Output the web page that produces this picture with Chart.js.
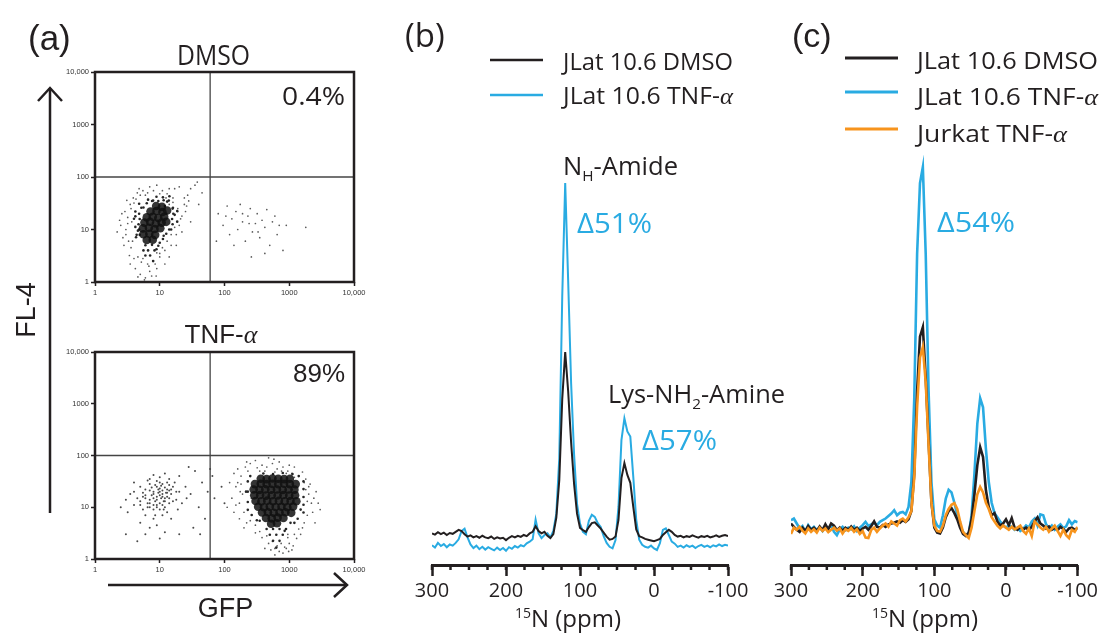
<!DOCTYPE html>
<html>
<head>
<meta charset="utf-8">
<script src="https://cdn.jsdelivr.net/npm/chart.js@4.4.1/dist/chart.umd.min.js"></script>
<style>
html, body { margin: 0; padding: 0; background: #fff; }
#fig { position: relative; width: 1101px; height: 635px; overflow: hidden; background: #fff; }
#fig canvas { position: absolute; }
</style>
</head>
<body>
<div id="fig">
  <canvas id="flowTop" width="375" height="635" style="left:0px;top:0px"></canvas>
  <canvas id="flowBottom" width="375" height="335" style="left:0px;top:300px"></canvas>
  <canvas id="nmrB" width="420" height="635" style="left:380px;top:0px"></canvas>
  <canvas id="nmrC" width="341" height="635" style="left:760px;top:0px"></canvas>
</div>
<script>
// ---------- data: flow cytometry (GFP vs FL-4) ----------
const flowTicks = [1, 10, 100, 1000, 10000];
const flowTickLabels = ['1', '10', '100', '1000', '10,000'];
const gateGFP = 60;     // vertical quadrant line
const gateFL4 = 100;    // horizontal quadrant line
const flowPercent = ['0.4%', '89%'];

// DMSO: dense core, its fringe, and scattered events
const dmsoCore = [
  [8.8,28],[10.8,27],
  [7.2,22],[8.9,22.5],[11,21.5],[13,23],
  [6.3,17],[7.8,17.5],[9.5,16.5],[11.7,17.5],
  [5.8,13.5],[7.1,14],[8.7,13],[10.7,13.5],[12.6,14],
  [5.5,10.5],[6.8,10.8],[8.3,10.2],[10.2,10.6],
  [5.6,8.1],[6.9,8.3],[8.5,7.9],
  [6.3,6.3],[7.8,6.4]
];
const dmsoEdge = [
  [7.9,35.5],[9.5,35],[11.5,36],[13.8,35.5],[8.9,42],[11.2,41],[14.1,43],
  [4.8,20],[4.9,15.8],[4.7,12.6],[4.8,10],[4.9,7.9],[4.2,17.8],[4.2,11.2],[4.3,7.1],[5.6,26.3],[6.3,31.6],
  [15.8,25],[16.2,20],[15.5,15.8],[15.8,12.6],[15,10],[18.6,22.4],[18.6,14.1],[12.6,8.3],[11.2,6.6],
  [6,5],[7.6,5.1],[9.5,4.9],[6.6,4],[8.3,4],[7.1,3.2],[6,3.2],[7.9,2.5],
  [4.2,22],[4.8,31],[6.6,37],[13,34],[16,26],[17,19],[14,10],[11.5,7.6],
  [10,5.6],[8.9,4.2],[5.6,4],[4.4,7.9],[4,16],[12.6,20],[12,28],[5.2,26],[4.6,9.5],[7.6,35]
];
const dmsoSparse = [
  [2.5,12],[3.0,8],[3.2,17],[2.8,5],[3.6,25],[3.4,3.2],[2.2,9],[3.9,40],[4.5,50],[5.5,55],
  [3.5,2.2],[4.2,1.8],[5.0,1.4],[6.0,1.2],[7.0,1.6],[6.5,2.2],[8.0,2.5],[9.0,1.8],[5.5,2.8],[4.6,3],
  [10,3],[12,4],[15,5],[18,8],[20,12],[22,18],[19,25],[24,30],[27,45],[30,60],
  [35,70],[16,40],[13,48],[11,55],[25,22],[30,14],[28,35],[14,30],[9,3.6],[7.5,1.3],
  [3.8,6],[2.6,20],[3.2,13],[4,32],[6,45],[40,30],[45,50],[38,80],[20,65],[17,60],
  [3,10],[3.3,6],[3.7,14],[2.9,22],[3.5,30],[4.3,38],[5,45],[6.5,50],[8,55],[10,48],
  [12.5,40],[16,33],[19,22],[21,16],[17,11],[15,8],[13,6],[11,4.5],[10,3.5],[8.5,2.2],
  [6.8,2],[5.2,2.4],[4,2.8],[3.6,4.5],[2.7,7],[2.4,15],[3.1,36],[4.8,60],[7,65],[9,70],
  [14,60],[24,40],[26,28],[22,9],[18,5],[14,3],[12,2.2],[5.8,1.1],[8.8,1.3],[4.6,1.25],
  [80,20],[95,12],[110,28],[120,8],[130,16],[150,22],[160,10],[175,30],[190,14],[210,6],
  [230,18],[250,25],[270,9],[300,13],[320,20],[350,7],[380,15],[420,11],[450,24],[500,5],
  [550,14],[600,18],[650,8],[700,12],[800,4],[900,12],[140,5],[260,3],[190,20],[330,9],
  [75,6],[105,18],[1800,11],[420,3.5],[240,13]
];

// TNF-alpha: GFP+ dense population, fringe, scattered events, GFP- cloud
const tnfCore = [
  [363,35.5],[447,35],[550,36],[676,35.5],[832,35],[1023,35.5],
  [295,28],[363,28.5],[447,28],[550,28.3],[676,28],[832,28.5],[1023,28],[1259,28],
  [282,22],[347,21.7],[427,22.2],[525,21.8],[646,22],[794,21.7],[977,22.1],[1202,21.9],
  [288,17],[355,17.3],[437,16.8],[537,17.1],[661,16.9],[813,17.2],[1000,16.8],[1230,17],
  [302,13.2],[372,13],[457,13.4],[562,13.1],[692,13.3],[851,13],[1047,13.2],[1288,13.1],
  [331,10.2],[407,10],[501,10.3],[617,10.1],[759,10.2],[933,10],[1148,10.3],
  [380,7.9],[468,8],[575,7.8],[708,7.9],[871,8],[1072,7.8],
  [437,6.2],[537,6.1],[661,6.3],[813,6.2],
  [525,4.8],[646,4.9]
];
const tnfEdge = [
  [398,45],[562,44],[794,46],[1122,44],
  [229,31.6],[229,20],[229,12.6],[229,8.9],[263,7.1],[316,5.6],
  [1660,31.6],[1660,22.4],[1660,15.8],[1660,11.2],[1660,7.9],[1349,6],[1047,5],
  [447,3.8],[562,3.8],[708,3.8],[891,3.8],[501,2.95],[631,2.95],[794,2.95],[562,2.24],[708,2.24],[631,1.66],
  [250,40],[1400,40],[1200,5],[850,3.5],[350,5.5],[215,20],[1500,9]
];
const tnfSparse = [
  [150,25],[170,12],[180,40],[200,8],[190,18],[160,55],[210,60],[250,70],[300,80],[380,65],
  [450,60],[550,70],[650,55],[800,60],[950,50],[1100,45],[1400,40],[1700,30],[2000,18],[2200,12],
  [1900,7],[1800,22],[1700,5],[1500,3],[1300,2.5],[1000,2],[900,1.6],[800,1.3],[650,1.8],[550,2.2],
  [450,2.8],[350,3.4],[300,4.5],[250,5.5],[200,4],[140,8],[130,15],[180,28],[2400,15],[3000,9],
  [700,1.4],[600,1.2],[750,2],[950,2.6],[1150,1.8],[420,1.6],[520,1.5],[1400,3.8],[2100,28],[1600,48],
  [700,75],[350,50],[260,15],[2600,20],[120,30],[110,10],[1000,65],[580,85],[850,1.7],[980,1.4],
  [160,30],[175,20],[140,45],[230,50],[320,58],[420,50],[600,48],[760,50],[900,45],[1200,38],
  [1800,35],[2000,25],[1900,13],[2300,8],[1600,4],[1200,3],[950,3],[1100,1.5],[600,1.6],[480,2],
  [380,2.6],[300,3.2],[220,5],[170,6],[150,11],[2500,5],[2800,12],[220,75],[480,90],[1200,60]
];
const tnfNegative = [
  [9,16],[7,14],[11,18],[8,20],[10,12],[6,17],[12,15],[13,22],[9,25],[7,10],
  [5,13],[14,12],[8,9],[11,28],[6,22],[10,20],[12,10],[15,18],[4.5,15],[5.5,9],
  [16,25],[9,32],[7,28],[18,14],[13,8],[11,7],[8,6],[6,7],[4,11],[3.5,18],
  [5,25],[6.5,33],[10,38],[14,35],[17,30],[20,20],[22,12],[19,9],[15,6],[9,4.5],
  [7,4],[5,5],[3.2,8],[3,14],[4,30],[8,42],[12,45],[20,40],[25,25],[26,15],
  [12,3.3],[6,3],[10,2.5],[4.5,2.2],[8.5,13],[10.5,15],[7.5,17],[9.5,19],[11.5,13],[8,11],
  [6.5,12],[12.5,19],[10,23],[7,21],[13,16],[9,10],[5.5,19],[14,21],[11,11],[8.5,27],
  [9,14],[10,17],[8,15],[11,21],[12,24],[7,12],[13,19],[9.5,22],[10.5,26],[6,15],
  [8,18],[11,16],[12,13],[14,15],[7.5,24],[9,11],[10,9],[6.5,10],[15,22],[16,13],
  [5,11],[4,20],[18,20],[13,30],[7,35],[10,30],[5.5,16],[11.5,9],[8.5,7],[14,27],
  [30,18],[35,50],[40,10],[45,30],[50,6],[28,60],[33,4],[55,20],[70,15],[90,25],
  [100,12],[65,40],[42,3],[3,3],[2.5,10],[20,3],[60,55]
];

// ---------- data: 15N spectra (intensity, arbitrary units), sampled every 4 ppm ----------
const ppmTicks = [300, 200, 100, 0, -100];
const ppm = [
  300,296,292,288,284,280,276,272,268,264,
  260,256,252,248,244,240,236,232,228,224,
  220,216,212,208,204,200,196,192,188,184,
  180,176,172,168,164,160,156,152,148,144,
  140,136,132,128,124,120,116,112,108,104,
  100,96,92,88,84,80,76,72,68,64,
  60,56,52,48,44,40,36,32,28,24,
  20,16,12,8,4,0,-4,-8,-12,-16,
  -20,-24,-28,-32,-36,-40,-44,-48,-52,-56,
  -60,-64,-68,-72,-76,-80,-84,-88,-92,-96,
  -100
];
const seriesNames = ['JLat 10.6 DMSO', 'JLat 10.6 TNF-α', 'Jurkat TNF-α'];

// panel (b)
const dmsoB = [
  8.0,7.7,8.3,7.8,8.2,7.6,8.1,7.9,8.4,8.9,
  8.6,7.8,7.2,7.5,7.0,7.3,6.9,7.4,7.0,6.8,
  7.2,6.6,7.0,6.7,6.9,6.3,6.9,7.3,7.0,7.4,
  7.1,7.6,7.3,8.0,8.4,9.8,8.6,8.0,8.4,7.4,
  6.8,7.8,12.0,21.5,42.0,53.9,44.0,31.0,20.5,13.0,
  9.4,8.8,8.4,9.6,10.6,10.8,10.0,9.2,8.2,7.2,
  6.4,6.6,7.2,11.4,22.0,25.8,22.8,20.8,14.7,9.0,
  7.3,7.0,6.6,6.4,6.2,6.0,6.3,6.6,7.6,8.3,
  8.9,8.4,7.6,7.2,7.4,7.0,7.3,7.1,7.5,7.2,
  6.9,7.3,7.1,7.4,7.0,7.2,7.5,7.1,7.4,7.6,
  7.3
];
const tnfB = [
  5.0,4.4,5.6,4.8,5.3,4.5,5.2,4.9,5.6,6.5,
  8.6,9.2,7.0,5.2,4.3,4.9,4.0,4.6,3.9,4.5,
  4.1,3.7,4.4,3.8,4.3,3.6,4.5,4.1,4.8,4.4,
  5.0,4.7,5.5,5.9,6.5,11.5,8.0,6.8,7.6,8.0,
  7.0,8.6,13.0,27.0,68.0,96.7,72.0,46.0,28.0,15.5,
  10.5,8.4,7.8,11.2,12.7,12.2,10.6,9.6,7.3,5.6,
  4.6,4.2,6.3,14.7,31.6,37.1,33.8,32.5,22.3,11.4,
  6.4,5.1,4.6,4.4,4.9,4.2,3.8,5.5,8.9,9.3,
  7.6,5.9,5.4,4.6,4.9,4.4,5.0,4.6,4.9,4.3,
  4.8,5.1,4.6,4.9,4.5,5.0,4.7,5.2,4.8,5.1,
  4.9
];

// panel (c)
const dmsoC = [
  10.0,9.2,8.5,8.0,9.0,8.2,9.4,8.5,9.0,8.2,
  9.3,8.4,9.8,8.6,10.0,9.5,8.4,9.0,8.2,9.0,
  8.5,9.3,8.5,9.0,8.2,8.8,9.2,8.5,9.4,10.5,
  9.2,9.0,9.6,9.2,9.8,10.0,10.2,10.5,10.2,10.8,
  10.4,11.0,13.0,22.0,42.0,55.0,57.3,45.0,30.0,15.0,
  9.0,7.8,7.6,9.0,11.5,13.0,13.7,12.5,11.0,9.0,
  7.5,7.0,7.8,11.0,17.0,24.0,28.4,26.0,18.0,14.0,
  12.0,12.5,10.5,9.5,10.0,11.0,9.6,11.3,9.0,8.5,
  9.2,8.6,9.0,8.4,9.2,10.5,11.5,10.0,9.5,8.8,
  9.3,8.5,9.0,8.4,9.2,8.7,8.0,8.8,9.0,8.5,
  8.9
];
const tnfC = [
  10.8,11.2,10.0,8.8,9.4,8.0,9.6,8.6,9.2,8.4,
  9.0,8.2,9.5,8.8,9.6,8.0,7.2,8.6,9.2,8.4,
  9.0,8.6,9.3,8.2,9.0,9.6,10.4,9.4,9.8,10.2,
  9.6,10.4,10.8,11.2,11.8,12.4,13.2,12.0,12.6,12.8,
  12.2,14.0,20.0,40.0,75.0,92.0,95.9,75.0,42.0,20.0,
  11.0,9.5,9.0,12.0,16.0,18.1,17.5,15.0,12.0,9.5,
  8.0,7.2,7.5,12.0,22.0,34.0,40.2,38.0,28.0,20.0,
  15.0,12.5,11.5,10.5,9.6,9.0,9.5,9.2,8.5,9.0,
  8.2,8.7,9.5,9.0,10.5,11.2,9.5,12.2,12.0,9.8,
  8.8,9.5,8.5,9.2,9.8,8.9,9.3,10.8,9.8,10.6,
  10.3
];
const jurkatC = [
  7.5,9.0,8.5,9.2,8.3,7.6,8.8,8.0,8.6,7.8,
  9.0,8.2,8.8,7.9,8.5,9.0,8.3,8.8,7.6,8.6,
  8.2,8.9,8.0,8.6,7.5,8.2,6.6,6.5,8.5,9.0,
  8.0,8.8,9.5,10.0,9.2,10.5,10.0,9.5,10.8,11.2,
  10.5,11.5,13.0,21.0,38.0,50.0,52.5,44.0,29.0,15.0,
  9.5,8.2,8.0,9.5,12.0,13.5,14.5,14.9,13.5,10.5,
  8.0,7.2,6.5,9.0,13.0,17.0,18.8,17.5,15.0,13.5,
  11.5,10.5,9.5,8.8,9.5,9.0,8.5,9.2,8.6,9.0,
  9.5,8.2,7.5,8.8,7.0,10.5,9.8,9.0,8.5,9.2,
  8.0,8.8,9.5,8.2,7.0,8.5,7.2,6.5,8.5,8.0,
  9.2
];

// ---------- styles ----------
const INK = '#231f20';
const BLUE = '#29abe2';
const ORANGE = '#f7941d';
const SANS = '"Open Sans", sans-serif';
const ARIAL = '"Liberation Sans", Arial, sans-serif';
const SERIF = '"Liberation Serif", serif';

Chart.defaults.font.family = SANS;
Chart.defaults.color = INK;

// draws a run of text segments (for sub/superscripts and the serif alpha)
function drawRich(ctx, item) {
  const segs = typeof item.text === 'string' ? [{ t: item.text }] : item.text;
  ctx.save();
  ctx.textBaseline = 'alphabetic';
  ctx.textAlign = 'left';
  let total = 0;
  const widths = segs.map(s => {
    ctx.font = s.font || item.font;
    const w = ctx.measureText(s.t).width;
    total += w;
    return w;
  });
  let sx = 1;
  if (item.width) sx = Math.min(1.2, Math.max(0.8, item.width / total));
  ctx.translate(item.x, item.y);
  if (item.rotate) ctx.rotate(item.rotate);
  ctx.scale(sx, 1);
  let x0 = item.align === 'center' ? -total / 2 : item.align === 'right' ? -total : 0;
  segs.forEach((s, i) => {
    ctx.font = s.font || item.font;
    ctx.fillStyle = s.color || item.color || INK;
    ctx.fillText(s.t, x0, s.dy || 0);
    x0 += widths[i];
  });
  ctx.restore();
}

// split "TNF-α" so the alpha gets a serif face like the original figure
const withAlpha = (label, size) => {
  const i = label.indexOf('α');
  if (i < 0) return label;
  return [{ t: label.slice(0, i) }, { t: 'α', font: `italic ${size}px ${SERIF}` }];
};

// text + decorations drawn in page coordinates
const textLayer = (left, top, items, strokes = []) => ({
  id: 'textLayer',
  afterDraw(chart) {
    const ctx = chart.ctx;
    ctx.save();
    ctx.translate(-left, -top);
    strokes.forEach(s => {
      ctx.beginPath();
      s.pts.forEach(([x, y], i) => i ? ctx.lineTo(x, y) : ctx.moveTo(x, y));
      ctx.lineWidth = s.width;
      ctx.strokeStyle = INK;
      ctx.lineCap = 'butt';
      ctx.lineJoin = 'miter';
      ctx.stroke();
    });
    items.forEach(it => drawRich(ctx, it));
    ctx.restore();
  }
});

// line-sample legend built from the datasets themselves
const lineLegend = (left, top, cfg) => ({
  id: 'lineLegend',
  afterDraw(chart) {
    const ctx = chart.ctx;
    ctx.save();
    ctx.translate(-left, -top);
    cfg.order.forEach((di, k) => {
      const ds = chart.data.datasets[di];
      ctx.beginPath();
      ctx.moveTo(cfg.x0, cfg.lineY[k]);
      ctx.lineTo(cfg.x1, cfg.lineY[k]);
      ctx.strokeStyle = ds.borderColor;
      ctx.lineWidth = cfg.lineWidth;
      ctx.stroke();
      drawRich(ctx, { text: withAlpha(ds.label, cfg.size), x: cfg.textX, y: cfg.textY[k],
        font: `${cfg.size}px ${SANS}`, width: cfg.widths ? cfg.widths[k] : undefined });
    });
    ctx.restore();
  }
});

// short ticks every 25 ppm between the labelled ones
const minorTicks = (step, len, width) => ({
  id: 'minorTicks',
  afterDraw(chart) {
    const sc = chart.scales.x, ctx = chart.ctx;
    ctx.save();
    ctx.strokeStyle = INK;
    ctx.lineWidth = width;
    for (let v = sc.min; v <= sc.max; v += step) {
      const px = sc.getPixelForValue(v);
      ctx.beginPath();
      ctx.moveTo(px, sc.top);
      ctx.lineTo(px, sc.top + len);
      ctx.stroke();
    }
    ctx.restore();
  }
});

// box around the dot plots
const frame = {
  id: 'frame',
  afterDatasetsDraw(chart) {
    const { ctx, chartArea: a } = chart;
    ctx.save();
    ctx.strokeStyle = INK;
    ctx.lineWidth = 2.5;
    ctx.strokeRect(a.left, a.top, a.right - a.left, a.bottom - a.top);
    ctx.restore();
  }
};

// ---------- panel (a): dot plots ----------
const flowScale = (fit) => ({
  type: 'logarithmic',
  min: 1,
  max: 10000,
  afterBuildTicks: sc => { sc.ticks = flowTicks.map(v => ({ value: v })); },
  afterFit: fit,
  ticks: {
    callback: (v, i) => flowTickLabels[i],
    font: { family: ARIAL, size: 7.5 },
    color: '#333',
    padding: 2,
    autoSkip: false,
    maxRotation: 0
  },
  grid: { drawOnChartArea: false, tickLength: 4, tickWidth: 1.5, tickColor: INK },
  border: { display: false }
});

const dots = (data, r, color) => ({
  data, pointRadius: r, pointBackgroundColor: color, pointBorderWidth: 0, showLine: false
});
const gate = (pts) => ({
  data: pts, showLine: true, borderColor: '#444', borderWidth: 1.3, pointRadius: 0
});

const flowChart = (canvasId, sets, padTop, xHeight, plugins) => new Chart(document.getElementById(canvasId), {
  type: 'scatter',
  data: {
    datasets: [
      gate([[gateGFP, 1], [gateGFP, 10000]]),
      gate([[1, gateFL4], [10000, gateFL4]]),
      ...sets
    ]
  },
  options: {
    responsive: false,
    animation: false,
    layout: { padding: { left: 0, top: padTop, right: 21, bottom: 0 } },
    scales: {
      x: flowScale(sc => { sc.height = xHeight; }),
      y: flowScale(sc => { sc.width = 95; })
    },
    plugins: { legend: { display: false }, tooltip: { enabled: false } }
  },
  plugins: [frame, ...plugins]
});

// slightly translucent core dots so the densest spot reads darkest
const CORE = 'rgba(17, 17, 17, 0.85)';

flowChart('flowTop', [
  dots(dmsoCore, 4.3, CORE),
  dots(dmsoEdge, 1.3, '#262626'),
  dots(dmsoSparse, 0.85, '#5a5a5a')
], 72, 353, [
  textLayer(0, 0, [
    { text: '(a)', x: 28, y: 50, font: `35px ${ARIAL}` },
    { text: 'DMSO', x: 213.5, y: 65, align: 'center', font: `27px ${SANS}`, width: 73 },
    { text: flowPercent[0], x: 345, y: 105, align: 'right', font: `25px ${SANS}`, width: 63 },
    { text: 'FL-4', x: 35, y: 310, align: 'center', rotate: -Math.PI / 2, font: `27px ${ARIAL}` },
    { text: 'GFP', x: 225.5, y: 617, align: 'center', font: `27px ${ARIAL}` }
  ], [
    { pts: [[50, 513], [50, 88]], width: 2.5 },
    { pts: [[38, 101], [50, 88], [62, 101]], width: 2.5 },
    { pts: [[108, 585], [347, 585]], width: 2.5 },
    { pts: [[334, 573], [347, 585], [334, 597]], width: 2.5 }
  ])
]);

flowChart('flowBottom', [
  dots(tnfCore, 4.3, CORE),
  dots(tnfEdge, 1.3, '#262626'),
  dots(tnfSparse, 0.85, '#5a5a5a'),
  dots(tnfNegative, 1.0, '#4a4a4a')
], 52, 76, [
  textLayer(0, 300, [
    { text: withAlpha('TNF-α', 26), x: 221, y: 343, align: 'center', font: `26px ${ARIAL}` },
    { text: flowPercent[1], x: 345, y: 382, align: 'right', font: `26px ${ARIAL}` }
  ])
]);

// ---------- panels (b) and (c): 15N spectra ----------
const toPoints = vals => ppm.map((p, i) => ({ x: p, y: vals[i] }));
const trace = (label, vals, color, width, order) => ({
  label, data: toPoints(vals), borderColor: color, backgroundColor: color,
  borderWidth: width, pointRadius: 0, tension: 0, order
});

const ppmScale = () => ({
  type: 'linear',
  reverse: true,
  min: -100,
  max: 300,
  afterBuildTicks: sc => { sc.ticks = ppmTicks.map(v => ({ value: v })); },
  afterFit: sc => { sc.height = 70; },
  ticks: { font: { family: SANS, size: 20 }, color: INK, padding: 3, maxRotation: 0, autoSkip: false },
  grid: { drawOnChartArea: false, tickLength: 11, tickWidth: 2.5, tickColor: INK },
  border: { display: true, width: 3, color: INK }
});

const nmrChart = (canvasId, datasets, padding, plugins) => new Chart(document.getElementById(canvasId), {
  type: 'line',
  data: { datasets },
  options: {
    responsive: false,
    animation: false,
    layout: { padding },
    scales: {
      x: ppmScale(),
      y: { display: false, min: 0, max: 100 }
    },
    plugins: { legend: { display: false }, tooltip: { enabled: false } }
  },
  plugins: [minorTicks(25, 5, 2.5), ...plugins]
});

const axisTitle = (cx) => ({
  text: [{ t: '15', font: `14px ${SANS}`, dy: -9 }, { t: 'N (ppm)' }],
  x: cx, y: 627, align: 'center', font: `24px ${SANS}`
});

nmrChart('nmrB', [
  trace(seriesNames[0], dmsoB, INK, 2, 0),
  trace(seriesNames[1], tnfB, BLUE, 2, 1)
], { left: 52, right: 72, top: 170, bottom: 0 }, [
  lineLegend(380, 0, { order: [0, 1], x0: 490, x1: 543, lineY: [60, 95], lineWidth: 2.5,
    textX: 563, textY: [70, 104], size: 23, widths: [170, 170] }),
  textLayer(380, 0, [
    { text: '(b)', x: 405, y: 47, font: `33px ${SANS}` },
    { text: [{ t: 'N' }, { t: 'H', font: `15px ${SANS}`, dy: 6 }, { t: '-Amide' }], x: 563, y: 175, font: `25px ${SANS}`, width: 115 },
    { text: 'Δ51%', x: 577, y: 233, font: `28px ${SANS}`, color: BLUE, width: 75 },
    { text: [{ t: 'Lys-NH' }, { t: '2', font: `15px ${SANS}`, dy: 6 }, { t: '-Amine' }], x: 608, y: 403, font: `25px ${SANS}`, width: 177 },
    { text: 'Δ57%', x: 642, y: 450, font: `28px ${SANS}`, color: BLUE, width: 75 },
    axisTitle(568)
  ])
]);

nmrChart('nmrC', [
  trace(seriesNames[0], dmsoC, INK, 2.6, 1),
  trace(seriesNames[1], tnfC, BLUE, 2.6, 2),
  trace(seriesNames[2], jurkatC, ORANGE, 2.6, 0)
], { left: 31, right: 19, top: 150, bottom: 0 }, [
  lineLegend(760, 0, { order: [0, 1, 2], x0: 845, x1: 898, lineY: [58, 92, 129], lineWidth: 3,
    textX: 917, textY: [69, 105, 142], size: 24, widths: [181, 181, 150] }),
  textLayer(760, 0, [
    { text: '(c)', x: 792, y: 47, font: `34px ${ARIAL}` },
    { text: 'Δ54%', x: 937, y: 232, font: `28px ${SANS}`, color: BLUE, width: 78 },
    axisTitle(925)
  ])
]);
</script>
</body>
</html>
